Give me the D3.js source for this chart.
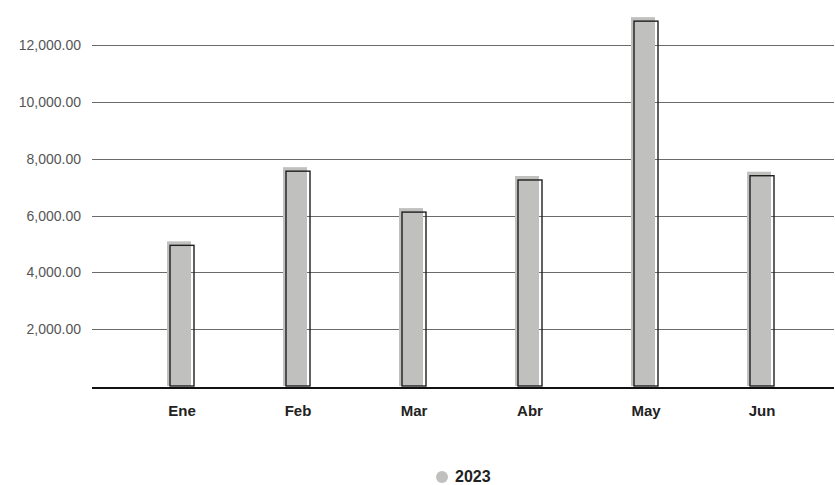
<!DOCTYPE html>
<html>
<head>
<meta charset="utf-8">
<script src="https://cdn.jsdelivr.net/npm/d3@7"></script>
<style>
  body { margin: 0; background: #fff; overflow: hidden; }
  text { font-family: "Liberation Sans", Arial, Helvetica, sans-serif; }
</style>
</head>
<body>
<svg id="chart"></svg>
<script>
const months = ["Ene", "Feb", "Mar", "Abr", "May", "Jun"];
const values2023 = [4950, 7560, 6120, 7250, 12840, 7400];
const yTicks = [2000, 4000, 6000, 8000, 10000, 12000];
const seriesName = "2023";

const width = 835;
const height = 485;

const svg = d3.select("#chart")
    .attr("width", width)
    .attr("height", height)
    .style("display", "block");

const x = d3.scaleBand()
    .domain(months)
    .range([124, 820])
    .paddingInner(0.793)
    .paddingOuter(0.3965);

const y = d3.scaleLinear()
    .domain([0, 12000])
    .range([386, 45]);

// gridlines
svg.append("g")
    .selectAll("line")
    .data(yTicks)
    .enter()
    .append("line")
    .attr("x1", 92)
    .attr("x2", 834)
    .attr("y1", d => Math.round(y(d)) + 0.5)
    .attr("y2", d => Math.round(y(d)) + 0.5)
    .style("stroke", "#6b6b6b")
    .style("stroke-width", 1);

// y labels
const fmt = d3.format(",.2f");
svg.append("g")
    .selectAll("text")
    .data(yTicks)
    .enter()
    .append("text")
    .attr("x", 81)
    .attr("y", d => y(d) + 5)
    .attr("text-anchor", "end")
    .style("font-size", "14px")
    .style("fill", "#555")
    .text(d => fmt(d));

// shadow bars
const bw = 24;
svg.append("g")
    .selectAll("rect")
    .data(values2023)
    .enter()
    .append("rect")
    .attr("x", (d, i) => x(months[i]) + x.bandwidth() / 2 - bw / 2 - 3)
    .attr("y", d => y(d) - 4)
    .attr("width", bw)
    .attr("height", d => y(0) - y(d) + 4)
    .style("fill", "#c0c1bf");

// outline bars
svg.append("g")
    .selectAll("rect")
    .data(values2023)
    .enter()
    .append("rect")
    .attr("x", (d, i) => x(months[i]) + x.bandwidth() / 2 - bw / 2)
    .attr("y", d => y(d))
    .attr("width", bw)
    .attr("height", d => y(0) - y(d))
    .style("fill", "none")
    .style("stroke", "#1e1e1e")
    .style("stroke-width", 1.4);

// baseline
svg.append("line")
    .attr("x1", 92)
    .attr("x2", 834)
    .attr("y1", 388)
    .attr("y2", 388)
    .style("stroke", "#111")
    .style("stroke-width", 2);

// x labels
svg.append("g")
    .selectAll("text")
    .data(months)
    .enter()
    .append("text")
    .attr("x", d => x(d) + x.bandwidth() / 2)
    .attr("y", 416)
    .attr("text-anchor", "middle")
    .style("font-size", "15px")
    .style("font-weight", "bold")
    .style("fill", "#222")
    .text(d => d);

// legend
const legend = svg.append("g");
legend.append("circle")
    .attr("cx", 442)
    .attr("cy", 477)
    .attr("r", 6)
    .style("fill", "#c0c1bf");
legend.append("text")
    .attr("x", 455)
    .attr("y", 482)
    .style("font-size", "16px")
    .style("font-weight", "bold")
    .style("fill", "#222")
    .text(seriesName);
</script>
</body>
</html>
